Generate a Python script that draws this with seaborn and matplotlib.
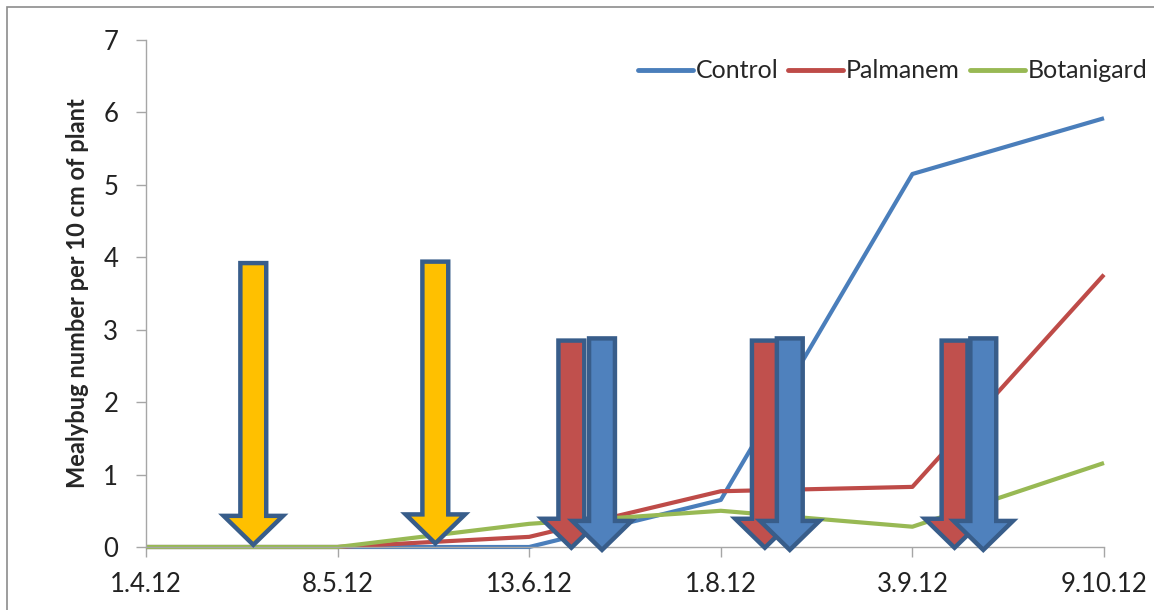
import matplotlib
matplotlib.use("Agg")
import matplotlib.pyplot as plt
from matplotlib.patches import FancyArrow, Rectangle
import seaborn as sns
import pandas as pd

# Sampling dates and mealybug counts per treatment
dates = ["1.4.12", "8.5.12", "13.6.12", "1.8.12", "3.9.12", "9.10.12"]
control = [0.0, 0.0, 0.0, 0.65, 5.15, 5.92]
palmanem = [0.0, 0.0, 0.14, 0.77, 0.83, 3.76]
botanigard = [0.0, 0.0, 0.32, 0.50, 0.28, 1.16]
treatments = ["Control", "Palmanem", "Botanigard"]

# Application arrows: (category position, top value, fill colour)
arrow_x = [0.56, 1.51, 2.22, 2.38, 3.23, 3.36, 4.22, 4.37]
arrow_top = [3.92, 3.94, 2.85, 2.88, 2.85, 2.88, 2.85, 2.88]
arrow_tip = [0.03, 0.05, -0.01, -0.04, -0.01, -0.04, -0.01, -0.04]
arrow_fill = ["#FFC000", "#FFC000", "#C0504D", "#4F81BD",
              "#C0504D", "#4F81BD", "#C0504D", "#4F81BD"]

df = pd.DataFrame({
    "pos": list(range(len(dates))) * 3,
    "value": control + palmanem + botanigard,
    "treatment": sum([[t] * len(dates) for t in treatments], []),
})

sns.set_theme(style="white")
plt.rcParams["font.family"] = ["Lato", "DejaVu Sans"]

TICK_FS = 18.5
LEG_FS = 18
LABEL_FS = 17

fig = plt.figure(figsize=(11.54, 6.10), dpi=100)
ax = fig.add_axes([146 / 1154, 1 - 547 / 610, (1104 - 146) / 1154, (547 - 40) / 610])

palette = {"Control": "#4A7EBB", "Palmanem": "#BE4B48", "Botanigard": "#98B954"}
sns.lineplot(data=df, x="pos", y="value", hue="treatment", palette=palette,
             linewidth=3.0, ax=ax, clip_on=False, legend=True)

for line in ax.lines:
    line.set_solid_joinstyle("round")
    line.set_solid_capstyle("butt")

for x, top, tip, fc in zip(arrow_x, arrow_top, arrow_tip, arrow_fill):
    arr = FancyArrow(x, top, 0, tip - top, width=0.135, head_width=0.31,
                     head_length=0.40, length_includes_head=True,
                     facecolor=fc, edgecolor="#385D8A", linewidth=3.2,
                     joinstyle="miter", zorder=5, clip_on=False)
    ax.add_patch(arr)

ax.set_xlim(0, 5)
ax.set_ylim(0, 7)
ax.set_xticks(range(len(dates)))
ax.set_xticklabels(dates)
ax.set_yticks(range(0, 8))
ax.set_xlabel("")
ax.set_ylabel("Mealybug number per 10 cm of plant", fontsize=LABEL_FS,
              fontweight="bold", labelpad=10)

for side in ["top", "right"]:
    ax.spines[side].set_visible(False)
for side in ["left", "bottom"]:
    ax.spines[side].set_color("#A6A6A6")
    ax.spines[side].set_linewidth(1.0)

ax.tick_params(axis="both", which="major", direction="out", length=7,
               width=1.0, color="#A6A6A6", labelsize=TICK_FS, labelcolor="#222222")
ax.tick_params(axis="y", pad=13)
ax.tick_params(axis="x", pad=11)
ax.tick_params(bottom=True, left=True)

leg = ax.legend(loc="upper right", bbox_to_anchor=(1.045, 0.962), ncol=3,
                frameon=False, fontsize=LEG_FS, handlelength=2.2,
                handletextpad=0.1, columnspacing=0.4, borderpad=0,
                borderaxespad=0)
for h in leg.get_lines():
    h.set_linewidth(3.5)
    h.set_solid_capstyle("round")

# Chart border (left and top edges fall inside the canvas)
fig.add_artist(Rectangle((7 / 1154, -0.05), 1.1, 1.05 - 7 / 610,
                         transform=fig.transFigure, fill=False,
                         edgecolor="#8C8C8C", linewidth=1.2))

fig.savefig("out.png", dpi=100)
